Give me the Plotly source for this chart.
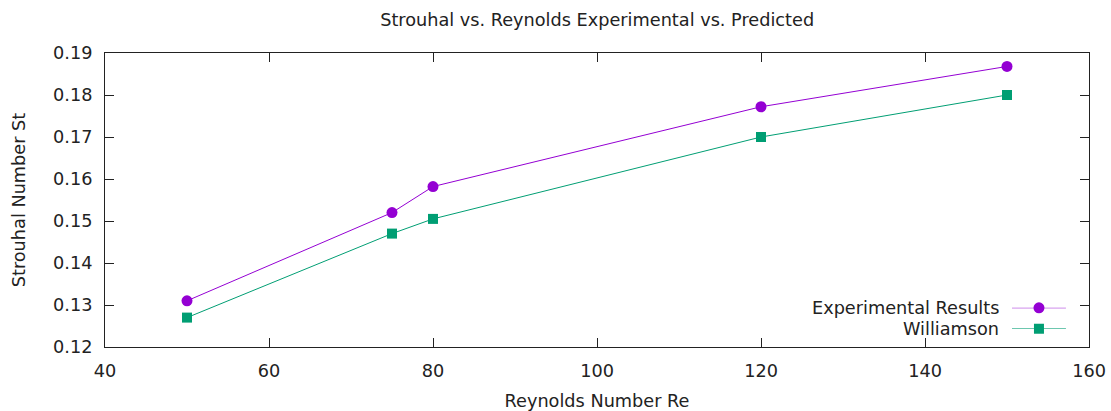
import plotly.graph_objects as go

# Strouhal number vs. Reynolds number
reynolds = [50, 75, 80, 120, 150]
st_experimental = [0.131, 0.152, 0.1582, 0.1772, 0.1868]
st_williamson = [0.127, 0.147, 0.1505, 0.170, 0.180]

series_names = ["Experimental Results", "Williamson"]
purple = "#9400D3"
green = "#009E73"

FONT = "DejaVu Sans"
FS = 17.7
LW = 1.0

fig = go.Figure()

fig.add_trace(go.Scatter(
    x=reynolds, y=st_experimental, mode="lines+markers",
    line=dict(color=purple, width=LW),
    marker=dict(symbol="circle", size=11, color=purple),
    showlegend=False, cliponaxis=False,
))
fig.add_trace(go.Scatter(
    x=reynolds, y=st_williamson, mode="lines+markers",
    line=dict(color=green, width=LW),
    marker=dict(symbol="square", size=10, color=green),
    showlegend=False, cliponaxis=False,
))

# key: label on the left, line sample with marker on the right
key_dom_y = [0.0621, 0.1334]
key_rows = [1, 0]
for row, name, col, sym, sz in zip(key_rows, series_names, [purple, green],
                                    ["circle", "square"], [11, 10]):
    fig.add_trace(go.Scatter(
        x=[0, 1], y=[row, row], mode="lines", line=dict(color=col, width=LW),
        xaxis="x2", yaxis="y2", showlegend=False, cliponaxis=False, hoverinfo="skip",
    ))
    fig.add_trace(go.Scatter(
        x=[0.5], y=[row], mode="markers", marker=dict(symbol=sym, size=sz, color=col),
        xaxis="x2", yaxis="y2", showlegend=False, cliponaxis=False, hoverinfo="skip",
    ))
    fig.add_annotation(
        x=0.9105, y=key_dom_y[0] + row * (key_dom_y[1] - key_dom_y[0]),
        xref="paper", yref="paper", text=name, showarrow=False,
        xanchor="right", yanchor="middle", font=dict(family=FONT, size=FS, color="#222"),
    )

axis_common = dict(
    showgrid=False, zeroline=False, showline=True, linecolor="#222", linewidth=1,
    mirror="allticks", ticks="inside", ticklen=9, tickcolor="#222", tickwidth=1,
    tickfont=dict(family=FONT, size=FS, color="#222"), automargin=False,
)

fig.update_layout(
    width=1111, height=411,
    margin=dict(l=105, r=22, t=53, b=64),
    paper_bgcolor="white", plot_bgcolor="white",
    title=dict(text="Strouhal vs. Reynolds Experimental vs. Predicted",
               x=0.5375, xanchor="center", y=0.953, yanchor="middle",
               font=dict(family=FONT, size=FS, color="#222")),
    xaxis=dict(range=[40, 160], tickvals=[40, 60, 80, 100, 120, 140, 160],
               ticklabelstandoff=8,
               title=dict(text="Reynolds Number Re", standoff=16,
                          font=dict(family=FONT, size=FS, color="#222")),
               **axis_common),
    yaxis=dict(range=[0.12, 0.19], tickvals=[0.12, 0.13, 0.14, 0.15, 0.16, 0.17, 0.18, 0.19],
               tickformat=".2f", ticklabelstandoff=8,
               title=dict(text="Strouhal Number St", standoff=22,
                          font=dict(family=FONT, size=FS, color="#222")),
               **axis_common),
    xaxis2=dict(domain=[0.9217, 0.9766], range=[0, 1], visible=False, anchor="y2"),
    yaxis2=dict(domain=key_dom_y, range=[0, 1], visible=False, anchor="x2"),
)

fig.write_html("out.html")
